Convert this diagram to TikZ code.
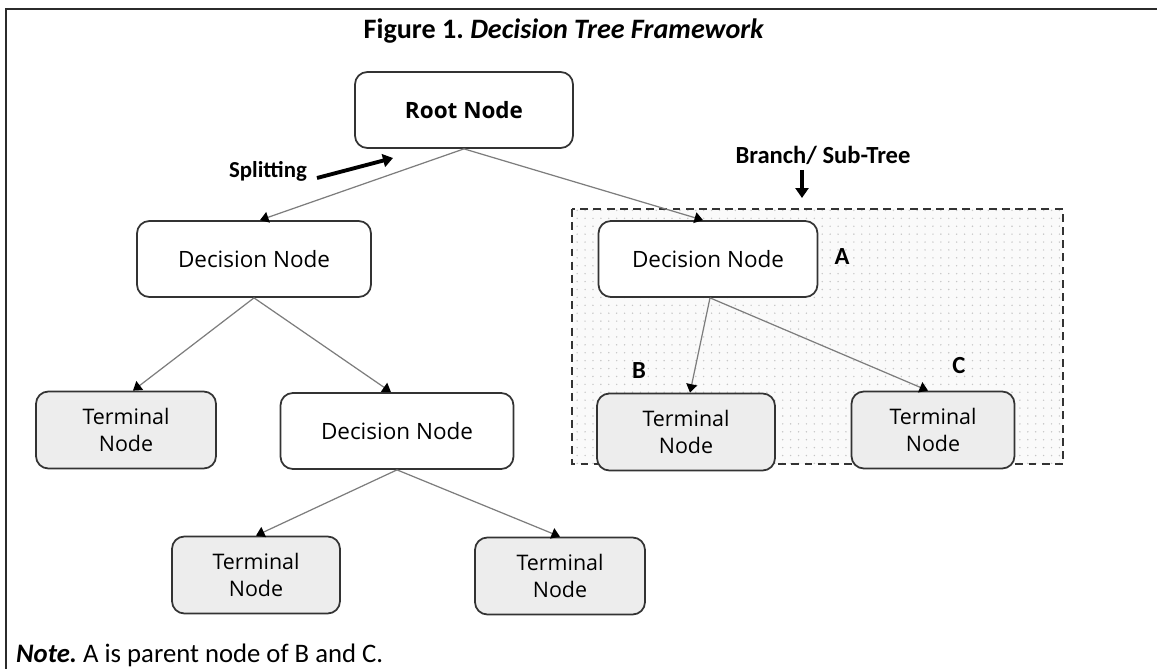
\documentclass[tikz,border=0pt]{standalone}
\usepackage{fontspec}
\setmainfont{Carlito}
\newfontfamily\boxfont{Open Sans}
\usetikzlibrary{arrows.meta, patterns.meta, positioning}
\frenchspacing
\definecolor{frameDark}{HTML}{2b2b2b}
\definecolor{boxEdge}{HTML}{333333}
\definecolor{linkGray}{HTML}{7d7d7d}
\definecolor{leafFill}{HTML}{EDEDED}
\tikzset{
  rootNode/.style = {rectangle, rounded corners=7pt, draw=boxEdge, line width=1pt,
    fill=white, minimum height=1.52cm, align=center,
    font=\boxfont\bfseries\fontsize{12.8}{15}\selectfont},
  decNode/.style = {rectangle, rounded corners=7pt, draw=boxEdge, line width=1pt,
    fill=white, minimum height=1.52cm, align=center,
    font=\boxfont\fontsize{12.8}{15}\selectfont},
  termNode/.style = {rectangle, rounded corners=7pt, draw=boxEdge, line width=1pt,
    fill=leafFill, minimum height=1.54cm, align=center,
    font=\boxfont\fontsize{12.2}{15.5}\selectfont},
  link/.style = {draw=linkGray, line width=0.7pt,
    -{Triangle[length=1.7mm, width=2.2mm, color=black]}},
  bigArrow/.style = {draw=black, line width=2.2pt, -{Triangle[length=2mm, width=2.6mm]}},
  tag/.style = {font=\bfseries\fontsize{14}{16}\selectfont},
  subTree/.style = {draw=boxEdge, line width=1pt, dash pattern=on 4.5pt off 3pt,
    preaction={fill=gray!4}, pattern={Dots[distance=4.5pt, radius=0.45pt]},
    pattern color=gray!45},
}

\begin{document}
\begin{tikzpicture}[x=0.02cm, y=-0.02cm]
\useasboundingbox (0,0) rectangle (1157,669);

% frame and caption
\draw[frameDark, line width=1.7pt] (6,669) -- (6,9) -- (1157,9);
\node[font=\bfseries\fontsize{16}{19}\selectfont] (title) at (564,31)
  {Figure 1. \textit{Decision Tree Framework}};
\node[anchor=west, font=\fontsize{15.2}{18}\selectfont] (note) at (10,655)
  {\textbf{\textit{Note.}} A is parent node of B and C.};

% branch area
\draw[subTree] (572,209) rectangle (1063,464);

% tree
\node[rootNode, minimum width=4.36cm] (root) at (464,110) {Root Node};
\node[decNode, minimum width=4.68cm] (d1) at (254,259) {Decision Node};
\node[decNode, minimum width=4.38cm] (dA) at (708,259) {Decision Node};
\node[termNode, minimum width=3.6cm] (t1) at (126,430) {Terminal\\Node};
\node[decNode, minimum width=4.66cm] (d2) at (397,431) {Decision Node};
\node[termNode, minimum width=3.36cm] (t2) at (256,575) {Terminal\\Node};
\node[termNode, minimum width=3.4cm] (t3) at (560,576) {Terminal\\Node};
\node[termNode, minimum width=3.56cm] (tB) at (686,432) {Terminal\\Node};
\node[termNode, minimum width=3.26cm] (tC) at (933,430) {Terminal\\Node};

% labels
\node[tag, font=\bfseries\fontsize{13}{15}\selectfont] (split) at (268,171) {Splitting};
\node[tag] (branch) at (823,155) {Branch/ Sub-Tree};
\node[tag] (labA) at (842,257) {A};
\node[tag] (labB) at (639,371) {B};
\node[tag] (labC) at (959,366) {C};
\coordinate (splitFrom) at (317,178);
\coordinate (splitTo) at (393,158);
\coordinate (branchFrom) at (802,170);
\coordinate (branchTo) at (802,198);

\draw[bigArrow] (splitFrom) -- (splitTo);
\draw[bigArrow] (branchFrom) -- (branchTo);

\draw[link] (root.south) -- ([xshift=0.12cm]d1.north);
\draw[link] (root.south) -- ([xshift=-0.1cm]dA.north);
\draw[link] (d1.south) -- ([xshift=0.14cm]t1.north);
\draw[link] (d1.south) -- ([xshift=-0.12cm]d2.north);
\draw[link] (d2.south) -- (t2.north);
\draw[link] (d2.south) -- (t3.north);
\draw[link] ([xshift=0.04cm]dA.south) -- ([xshift=0.08cm]tB.north);
\draw[link] ([xshift=0.04cm]dA.south) -- ([xshift=-0.1cm]tC.north);

\end{tikzpicture}
\end{document}
